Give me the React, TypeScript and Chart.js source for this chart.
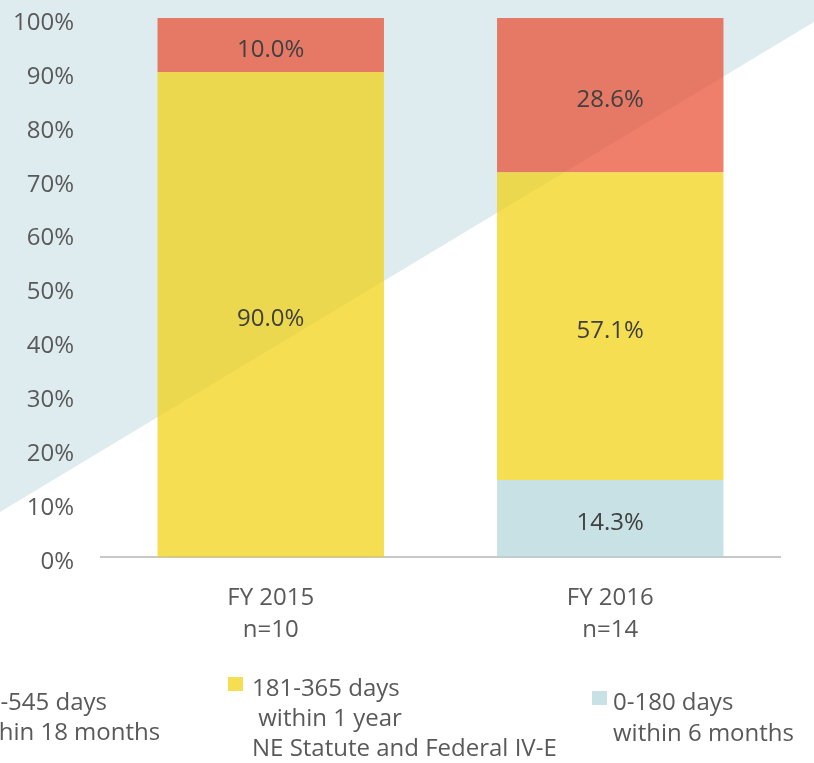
import React, { useEffect, useRef } from 'react';
import { Chart, registerables } from 'chart.js';

Chart.register(...registerables);

// ---- data ----
const categories: string[][] = [
  ['FY 2015', 'n=10'],
  ['FY 2016', 'n=14'],
];
const seriesNames = ['0-180 days', '181-365 days', '366-545 days'];
const days0to180 = [0, 14.3];
const days181to365 = [90.0, 57.1];
const days366to545 = [10.0, 28.6];
const legendTexts: string[][] = [
  ['366-545 days', ' within 18 months'],
  ['181-365 days', ' within 1 year', 'NE Statute and Federal IV-E'],
  ['0-180 days', 'within 6 months'],
];

// ---- styles ----
const FONT = '"Open Sans", "DejaVu Sans", sans-serif';
const C_BLUE = 'rgba(175,212,217,0.69)';
const C_YELLOW = 'rgba(242,207,4,0.69)';
const C_RED = 'rgba(232,70,39,0.69)';
const BG_TRI = '#deecf0';

const backgroundPlugin = {
  id: 'bgTriangle',
  beforeDraw(chart: any) {
    const { ctx, width } = chart;
    ctx.save();
    ctx.fillStyle = BG_TRI;
    ctx.beginPath();
    ctx.moveTo(0, 0);
    ctx.lineTo(width, 0);
    ctx.lineTo(width, 22);
    ctx.lineTo(0, 512);
    ctx.closePath();
    ctx.fill();
    ctx.restore();
  },
};

const valueLabelPlugin = {
  id: 'valueLabels',
  afterDatasetsDraw(chart: any) {
    const { ctx } = chart;
    ctx.save();
    ctx.font = `24px ${FONT}`;
    ctx.fillStyle = '#404040';
    ctx.textAlign = 'center';
    ctx.textBaseline = 'middle';
    chart.data.datasets.forEach((ds: any, di: number) => {
      const meta = chart.getDatasetMeta(di);
      meta.data.forEach((bar: any, i: number) => {
        const v = ds.data[i];
        if (!v) return;
        const y = (bar.y + bar.base) / 2 + 5;
        ctx.fillText(v.toFixed(1) + '%', bar.x, y);
      });
    });
    ctx.restore();
  },
};

const legendPlugin = {
  id: 'customLegend',
  afterDraw(chart: any) {
    const { ctx } = chart;
    const ds = chart.data.datasets;
    const items = [
      { di: 2, lines: legendTexts[0], endX: 107, base: [710, 740] },
      { di: 1, lines: legendTexts[1], startX: 252, base: [696, 726, 756] },
      { di: 0, lines: legendTexts[2], startX: 613, base: [710, 741] },
    ];
    ctx.save();
    ctx.font = `24px ${FONT}`;
    ctx.textBaseline = 'alphabetic';
    ctx.textAlign = 'left';
    items.forEach((it: any) => {
      let sx = it.startX;
      if (sx === undefined) sx = it.endX - ctx.measureText(it.lines[0]).width;
      const sqX = it.di === 0 ? sx - 21 : sx - 24;
      ctx.fillStyle = ds[it.di].backgroundColor;
      ctx.fillRect(sqX, it.base[0] - 19, 15, 14);
      ctx.fillStyle = '#595959';
      it.lines.forEach((ln: string, li: number) => {
        ctx.fillText(ln, sx, it.base[li]);
      });
    });
    ctx.restore();
  },
};

export default function App() {
  const ref = useRef<HTMLCanvasElement | null>(null);

  useEffect(() => {
    document.body.style.margin = '0';
    if (!ref.current) return;
    const chart = new Chart(ref.current, {
      type: 'bar',
      data: {
        labels: categories,
        datasets: [
          { label: seriesNames[0], data: days0to180, backgroundColor: C_BLUE },
          { label: seriesNames[1], data: days181to365, backgroundColor: C_YELLOW },
          { label: seriesNames[2], data: days366to545, backgroundColor: C_RED },
        ].map((d) => ({
          ...d,
          categoryPercentage: 1,
          barPercentage: 0.667,
          borderWidth: 0,
        })),
      },
      options: {
        animation: false,
        responsive: false,
        maintainAspectRatio: false,
        layout: { padding: { top: 18, right: 34, bottom: 0, left: 0 } },
        plugins: {
          legend: { display: false },
          tooltip: { enabled: false },
        },
        scales: {
          x: {
            stacked: true,
            grid: { display: false, drawTicks: false },
            border: { display: true, color: '#c8c8c8', width: 2 },
            ticks: {
              color: '#595959',
              font: { family: FONT, size: 24, lineHeight: 1.3 },
              padding: 26,
              maxRotation: 0,
            },
            afterFit: (s: any) => {
              s.height = 206;
            },
          },
          y: {
            stacked: true,
            min: 0,
            max: 100,
            grid: { display: false, drawTicks: false },
            border: { display: false },
            ticks: {
              stepSize: 10,
              color: '#595959',
              font: { family: FONT, size: 24 },
              padding: 27,
              labelOffset: 5,
              callback: (v: any) => v + '%',
            },
            afterFit: (s: any) => {
              s.width = 101;
              s.paddingTop = 10;
              s.paddingBottom = 10;
            },
          },
        },
      },
      plugins: [backgroundPlugin, valueLabelPlugin, legendPlugin],
    } as any);
    return () => chart.destroy();
  }, []);

  return (
    <canvas
      ref={ref}
      width={814}
      height={763}
      style={{ display: 'block', width: 814, height: 763 }}
    />
  );
}
